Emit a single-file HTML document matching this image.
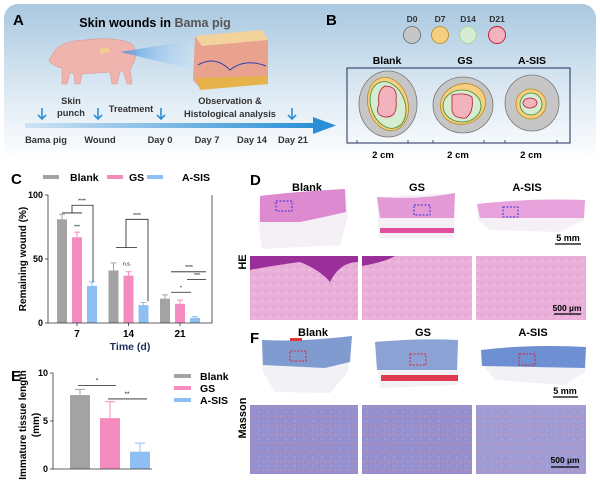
<!DOCTYPE html>
<html><head><meta charset="utf-8"><style>
html,body{margin:0;padding:0;background:#fff;}
svg{display:block;font-family:"Liberation Sans",Arial,sans-serif;}
</style></head><body>
<svg id="fig" width="600" height="480" viewBox="0 0 600 480" xmlns="http://www.w3.org/2000/svg">
<defs>
<linearGradient id="bg" x1="0" y1="0" x2="0" y2="1"><stop offset="0" stop-color="#a9c8e0"/><stop offset="0.55" stop-color="#dce9f3"/><stop offset="1" stop-color="#ffffff"/></linearGradient>
<linearGradient id="arr" x1="0" y1="0" x2="1" y2="0"><stop offset="0" stop-color="#cfe3f3"/><stop offset="1" stop-color="#2a8fd6"/></linearGradient>
<linearGradient id="beam" x1="0" y1="0" x2="1" y2="0"><stop offset="0" stop-color="#3a8fe0"/><stop offset="1" stop-color="#cfe6fb" stop-opacity="0.3"/></linearGradient>
<pattern id="he" width="8" height="8" patternUnits="userSpaceOnUse"><rect width="8" height="8" fill="#eab0da"/><circle cx="2" cy="3" r="0.7" fill="#c88ac0"/><circle cx="6" cy="6" r="0.7" fill="#f5d6ee"/><circle cx="5" cy="1" r="0.5" fill="#bb7ab5"/></pattern>
<pattern id="ms" width="9" height="9" patternUnits="userSpaceOnUse"><rect width="9" height="9" fill="#9490cf"/><circle cx="2" cy="3" r="1.1" fill="#c48aa6"/><circle cx="7" cy="7" r="0.8" fill="#b5a6dc"/><circle cx="6" cy="2" r="0.6" fill="#d99aa8"/></pattern>
</defs>

<rect x="4" y="4" width="592" height="158" rx="14" fill="url(#bg)"/>
<text x="13" y="25" font-size="15" font-weight="bold">A</text>
<text x="326" y="25" font-size="15" font-weight="bold">B</text>
<text x="155" y="27" font-size="12.5" font-weight="bold" text-anchor="middle">Skin wounds in <tspan fill="#555">Bama pig</tspan></text>
<g>
<path d="M52,55 Q60,40 85,40 Q115,36 132,44 Q138,52 134,62 L130,70 L132,84 L127,84 L123,70 L120,72 L117,84 L112,84 L110,72 L82,74 L80,84 L75,84 L74,74 L70,72 L67,84 L62,84 L62,68 Q52,66 49,60 Z" fill="#f0b4ae" stroke="#d99891" stroke-width="0.6"/>
<rect x="100" y="48" width="9" height="5" fill="#f2d08a" transform="rotate(-10 104 50)"/>
</g>
<polygon points="120,52 195,40 195,70" fill="url(#beam)" opacity="0.8"/>
<g>
<polygon points="195,36 262,30 268,40 268,82 200,88 193,80" fill="#e9a28e"/>
<polygon points="195,36 262,30 268,40 202,46" fill="#f3d39c"/>
<path d="M198,65 Q215,55 230,70 Q245,58 266,66" stroke="#3040b0" stroke-width="1" fill="none"/>
<path d="M196,78 L268,76 L268,84 L200,90 Z" fill="#e6b24a"/>
</g>
<rect x="25" y="123" width="290" height="5" fill="url(#arr)"/>
<polygon points="313,117 336,125.5 313,134" fill="#2a8fd6"/>
<g stroke="#2a8fd6" stroke-width="1.6" fill="none">
<path d="M42,108 V119 M38,115 L42,119 L46,115"/>
<path d="M98,108 V119 M94,115 L98,119 L102,115"/>
<path d="M161,108 V119 M157,115 L161,119 L165,115"/>
<path d="M292,108 V119 M288,115 L292,119 L296,115"/>
</g>
<g font-size="9.3" font-weight="bold" fill="#333" text-anchor="middle">
<text x="71" y="104">Skin</text>
<text x="71" y="116">punch</text>
<text x="131" y="112">Treatment</text>
<text x="230" y="104">Observation &amp;</text>
<text x="230" y="117">Histological analysis</text>
<text x="46" y="143">Bama pig</text>
<text x="100" y="143">Wound</text>
<text x="160" y="143">Day 0</text>
<text x="207" y="143">Day 7</text>
<text x="252" y="143">Day 14</text>
<text x="293" y="143">Day 21</text>
</g>

<g font-size="8.5" font-weight="bold" fill="#333" text-anchor="middle">
<text x="412" y="22">D0</text>
<text x="440" y="22">D7</text>
<text x="468" y="22">D14</text>
<text x="497" y="22">D21</text>
</g>
<circle cx="412" cy="35" r="8.5" fill="#c6c6c6" stroke="#666" stroke-width="0.8"/>
<circle cx="440" cy="35" r="8.5" fill="#f7cf82" stroke="#b58b1d" stroke-width="0.8"/>
<circle cx="468" cy="35" r="8.5" fill="#d5ecd0" stroke="#9bcf8f" stroke-width="0.8"/>
<circle cx="497" cy="35" r="8.5" fill="#f2b3bd" stroke="#c0183a" stroke-width="0.9"/>
<g font-size="10.5" font-weight="bold" text-anchor="middle">
<text x="387" y="64">Blank</text>
<text x="465" y="64">GS</text>
<text x="532" y="64">A-SIS</text>
</g>
<rect x="347" y="68" width="223" height="75" fill="none" stroke="#1f2d5a" stroke-width="1"/>
<g stroke-width="0.8">
<ellipse cx="388" cy="104" rx="29" ry="33" fill="#c6c6c6" stroke="#777"/>
<ellipse cx="388" cy="104" rx="20" ry="27" fill="#f7cf82" stroke="#b58b1d" transform="rotate(-15 388 104)"/>
<ellipse cx="388" cy="105" rx="17" ry="24" fill="#d5ecd0" stroke="#3c8a2c" transform="rotate(-20 388 105)"/>
<path d="M385,86 Q398,86 396,100 Q398,118 385,117 Q374,115 379,104 Q377,90 385,86Z" fill="#f2b3bd" stroke="#b01a3a"/>
</g>
<g stroke-width="0.8">
<ellipse cx="463" cy="105" rx="30" ry="28" fill="#c6c6c6" stroke="#777"/>
<ellipse cx="463" cy="104" rx="23" ry="20" fill="#f7cf82" stroke="#b58b1d" transform="rotate(-20 463 104)"/>
<ellipse cx="462" cy="106" rx="19" ry="16" fill="#d5ecd0" stroke="#3c8a2c"/>
<path d="M452,95 Q465,92 472,97 Q474,112 466,118 Q453,119 452,110 Z" fill="#f2b3bd" stroke="#b01a3a"/>
</g>
<g stroke-width="0.8">
<ellipse cx="532" cy="103" rx="27" ry="28" fill="#c6c6c6" stroke="#777"/>
<ellipse cx="531" cy="104" rx="15" ry="15" fill="#f7cf82" stroke="#b58b1d"/>
<ellipse cx="531" cy="104" rx="11" ry="11" fill="#d5ecd0" stroke="#3c8a2c"/>
<ellipse cx="530" cy="103" rx="7" ry="5" fill="#f2b3bd" stroke="#b01a3a"/>
</g>
<g stroke="#333" stroke-width="0.8">
<path d="M357,140 V143 M408,140 V143 M433,140 V143 M484,140 V143 M505,140 V143 M557,140 V143"/>
</g>
<g font-size="9.5" font-weight="bold" text-anchor="middle">
<text x="383" y="158">2 cm</text>
<text x="458" y="158">2 cm</text>
<text x="531" y="158">2 cm</text>
</g>

<text x="11" y="184" font-size="15" font-weight="bold">C</text>
<g id="chartC"></g>
<text x="11" y="381" font-size="15" font-weight="bold">E</text>
<g id="chartE"></g>

<text x="250" y="185" font-size="15" font-weight="bold">D</text>
<text x="250" y="343" font-size="15" font-weight="bold">F</text>
<g font-size="11" font-weight="bold" text-anchor="middle">
<text x="307" y="191">Blank</text>
<text x="417" y="191">GS</text>
<text x="527" y="191">A-SIS</text>
<text x="313" y="336">Blank</text>
<text x="423" y="336">GS</text>
<text x="533" y="336">A-SIS</text>
</g>
<text transform="translate(246,262) rotate(-90)" font-size="11" font-weight="bold" text-anchor="middle">HE</text>
<text transform="translate(246,418) rotate(-90)" font-size="11" font-weight="bold" text-anchor="middle">Masson</text>

<g>
<path d="M260,196 Q290,192 345,189 L348,216 L340,245 L262,249 L258,220 Z" fill="#f4f0f6"/>
<path d="M260,196 Q290,192 345,189 L346,212 Q320,218 300,222 L260,222 Z" fill="#de8ad0"/>
<rect x="276" y="201" width="16" height="10" fill="none" stroke="#3a2fd8" stroke-dasharray="2,1.5"/>
</g>
<g>
<path d="M377,197 L455,193 L454,238 L379,238 Z" fill="#f4f0f6"/>
<path d="M377,197 Q420,200 455,193 L454,218 L380,218 Z" fill="#e39ad6"/>
<rect x="380" y="228" width="74" height="5" fill="#e0509e"/>
<rect x="414" y="205" width="16" height="10" fill="none" stroke="#3a2fd8" stroke-dasharray="2,1.5"/>
</g>
<g>
<path d="M477,204 Q530,198 585,200 L584,220 L560,232 L490,230 L478,220 Z" fill="#f4f0f6"/>
<path d="M477,204 Q530,198 585,200 L584,218 L480,218 Z" fill="#e7a2db"/>
<rect x="503" y="207" width="15" height="10" fill="none" stroke="#3a2fd8" stroke-dasharray="2,1.5"/>
</g>
<g><line x1="555" y1="244" x2="581" y2="244" stroke="#000" stroke-width="1.2"/><text x="568" y="241" font-size="9" font-weight="bold" text-anchor="middle">5 mm</text></g>

<rect x="250" y="256" width="108" height="64" fill="url(#he)"/>
<path d="M250,256 L358,256 L358,262 Q340,262 330,282 Q320,270 300,262 Q270,266 250,270 Z" fill="#9b2f9a"/>
<rect x="362" y="256" width="110" height="64" fill="url(#he)"/>
<path d="M362,256 L395,256 Q385,262 362,266 Z" fill="#9b2f9a"/>
<rect x="476" y="256" width="110" height="64" fill="url(#he)"/>
<g><line x1="554" y1="314" x2="581" y2="314" stroke="#000" stroke-width="1.2"/><text x="567" y="311" font-size="8.5" font-weight="bold" text-anchor="middle">500 µm</text></g>

<g>
<path d="M262,340 Q300,342 352,336 L348,372 L330,393 L275,392 L262,370 Z" fill="#f2f1f6"/>
<path d="M262,340 Q300,342 352,336 L350,362 L325,368 L263,365 Z" fill="#7f9bd0"/>
<rect x="290" y="338" width="12" height="3" fill="#e0383a"/>
<rect x="290" y="351" width="16" height="10" fill="none" stroke="#d8222a" stroke-dasharray="2,1.5"/>
</g>
<g>
<path d="M375,342 Q420,338 458,340 L458,385 L380,388 Z" fill="#f2f1f6"/>
<path d="M375,342 Q420,338 458,340 L457,370 L377,370 Z" fill="#8aa3d4"/>
<rect x="381" y="375" width="77" height="6" fill="#e03a50"/>
<rect x="410" y="354" width="16" height="11" fill="none" stroke="#d8222a" stroke-dasharray="2,1.5"/>
</g>
<g>
<path d="M481,350 Q530,344 586,347 L585,372 L565,385 L495,380 L481,362 Z" fill="#f2f1f6"/>
<path d="M481,350 Q530,344 586,347 L585,368 L482,366 Z" fill="#6f8fd3"/>
<rect x="519" y="354" width="16" height="11" fill="none" stroke="#d8222a" stroke-dasharray="2,1.5"/>
</g>
<g><line x1="553" y1="397" x2="578" y2="397" stroke="#000" stroke-width="1.2"/><text x="565" y="394" font-size="9" font-weight="bold" text-anchor="middle">5 mm</text></g>
<rect x="250" y="405" width="108" height="69" fill="url(#ms)"/>
<rect x="362" y="405" width="110" height="69" fill="url(#ms)"/>
<rect x="476" y="405" width="110" height="69" fill="url(#ms)" opacity="0.9"/>
<g><line x1="551" y1="467" x2="579" y2="467" stroke="#000" stroke-width="1.2"/><text x="565" y="463" font-size="8.5" font-weight="bold" text-anchor="middle">500 µm</text></g>
</svg>
<script>
const groupsC = ["7","14","21"];
const blankC = [81,41,19];
const gsC = [67,37,15];
const asisC = [29,14,4];
const blankErrC = [4,6,3];
const gsErrC = [4,3,3];
const asisErrC = [3,2,1];
const ticksC = [0,50,100];
const groupsE = ["Blank","GS","A-SIS"];
const valuesE = [7.7,5.3,1.8];
const errE = [0.6,1.7,0.9];
const ticksE = [0,5,10];
const seriesNames = ["Blank","GS","A-SIS"];
const colors = ["#a3a3a3","#f48cbf","#8fbff2"];
const NS="http://www.w3.org/2000/svg";
function mk(p,t,a){const e=document.createElementNS(NS,t);for(const k in a)e.setAttribute(k,a[k]);p.appendChild(e);return e;}

(function(){
 const g=document.getElementById('chartC');
 const x0=48,x1=212,yTop=195,yBot=323,max=100;
 const y=v=>yBot-(v/max)*(yBot-yTop);
 const gx=i=>77+i*51.5;
 const series=[blankC,gsC,asisC], errs=[blankErrC,gsErrC,asisErrC];
 series.forEach((s,si)=>{s.forEach((v,i)=>{
   const cx=gx(i)+(si-1)*15;
   const b=mk(g,'rect',{x:cx-5,y:y(v),width:10,height:yBot-y(v),fill:colors[si]});
   
   
   const e=mk(g,'path',{d:`M${cx},${y(v)} V${y(v+errs[si][i])} M${cx-3},${y(v+errs[si][i])} H${cx+3}`,stroke:colors[si],'stroke-width':1,fill:'none'});
   
   
 });});
 const ax=mk(g,'path',{d:`M${x0},${yTop} V${yBot} H${x1} V${yTop}`,stroke:'#333','stroke-width':0.8,fill:'none'});
 
 
 ticksC.forEach(t=>{
   mk(g,'line',{x1:x0-3,x2:x0,y1:y(t),y2:y(t),stroke:'#333','stroke-width':0.8});
   const tx=mk(g,'text',{x:x0-5,y:y(t)+3,'font-size':9,'font-weight':'bold','text-anchor':'end'});tx.textContent=t;
   
   
 });
 groupsC.forEach((c,i)=>{
   mk(g,'line',{x1:gx(i),x2:gx(i),y1:yBot,y2:yBot+3,stroke:'#333','stroke-width':0.8});
   const tx=mk(g,'text',{x:gx(i),y:yBot+14,'font-size':10,'font-weight':'bold','text-anchor':'middle'});tx.textContent=c;
   
   
 });
 const xt=mk(g,'text',{x:130,y:350,'font-size':10.5,'font-weight':'bold','text-anchor':'middle',fill:'#1f2d5a'});xt.textContent='Time (d)';
 
 
 const yt=mk(g,'text',{transform:'translate(26,259) rotate(-90)','font-size':10,'font-weight':'bold','text-anchor':'middle'});yt.textContent='Remaining wound (%)';
 
 
 const lx=[43,107,147], tx=[70,129,182];
 seriesNames.forEach((n,i)=>{
   const r=mk(g,'rect',{x:lx[i],y:175,width:16,height:4,fill:colors[i]});
   
   
   const t=mk(g,'text',{x:tx[i],y:181,'font-size':10.5,'font-weight':'bold'});t.textContent=n;
   
   
 });
 const br=mk(g,'path',{d:`M62,${y(86)} H82 M72,${y(86)} V${y(92)} H93 V${y(32)} M116,${y(59)} H137 M126,${y(59)} V${y(81)} H148 V${y(17)} M171,${y(24)} H191 M171,${y(40)} H206 M187,${y(34)} H206`,stroke:'#222','stroke-width':0.8,fill:'none'});
 
 
 [[82,y(94),'****'],[137,y(83),'****'],[77,y(74),'***'],[127,y(45),'n.s.'],[181,y(26),'*'],[189,y(42),'****'],[197,y(36),'***']].forEach(a=>{
   const t=mk(g,'text',{x:a[0],y:a[1],'font-size':5,'text-anchor':'middle'});t.textContent=a[2];
   
   
 });
})();

(function(){
 const g=document.getElementById('chartE');
 const x0=53,yTop=373,yBot=469,max=10;
 const y=v=>yBot-(v/max)*(yBot-yTop);
 const gx=i=>80+i*30;
 valuesE.forEach((v,i)=>{
   const b=mk(g,'rect',{x:gx(i)-10,y:y(v),width:20,height:yBot-y(v),fill:colors[i]});
   
   
   const e=mk(g,'path',{d:`M${gx(i)},${y(v)} V${y(v+errE[i])} M${gx(i)-5},${y(v+errE[i])} H${gx(i)+5}`,stroke:colors[i],'stroke-width':1,fill:'none'});
   
   
 });
 const ax=mk(g,'path',{d:`M${x0},${yTop} V${yBot} H152`,stroke:'#333','stroke-width':0.8,fill:'none'});
 
 
 ticksE.forEach(t=>{
   mk(g,'line',{x1:x0-3,x2:x0,y1:y(t),y2:y(t),stroke:'#333','stroke-width':0.8});
   const tx=mk(g,'text',{x:x0-5,y:y(t)+3,'font-size':9,'font-weight':'bold','text-anchor':'end'});tx.textContent=t;
   
   
 });
 const t1=mk(g,'text',{transform:'translate(26,425) rotate(-90)','font-size':10,'font-weight':'bold','text-anchor':'middle'});t1.textContent='Immature tissue length';
 
 
 const t2=mk(g,'text',{transform:'translate(39,425) rotate(-90)','font-size':10,'font-weight':'bold','text-anchor':'middle'});t2.textContent='(mm)';
 
 
 const br=mk(g,'path',{d:`M78,${y(8.7)} H116 M108,${y(7.3)} H147`,stroke:'#222','stroke-width':0.8,fill:'none'});
 
 
 [[97,y(9.0),'*'],[127,y(7.6),'**']].forEach(a=>{
   const t=mk(g,'text',{x:a[0],y:a[1],'font-size':6,'text-anchor':'middle'});t.textContent=a[2];
   
   
 });
 seriesNames.forEach((n,i)=>{
   const r=mk(g,'rect',{x:174,y:374+i*12,width:17,height:4,fill:colors[i]});
   
   
   const t=mk(g,'text',{x:200,y:380+i*12,'font-size':10.5,'font-weight':'bold'});t.textContent=n;
   
   
 });
})();
</script>
</body></html>
